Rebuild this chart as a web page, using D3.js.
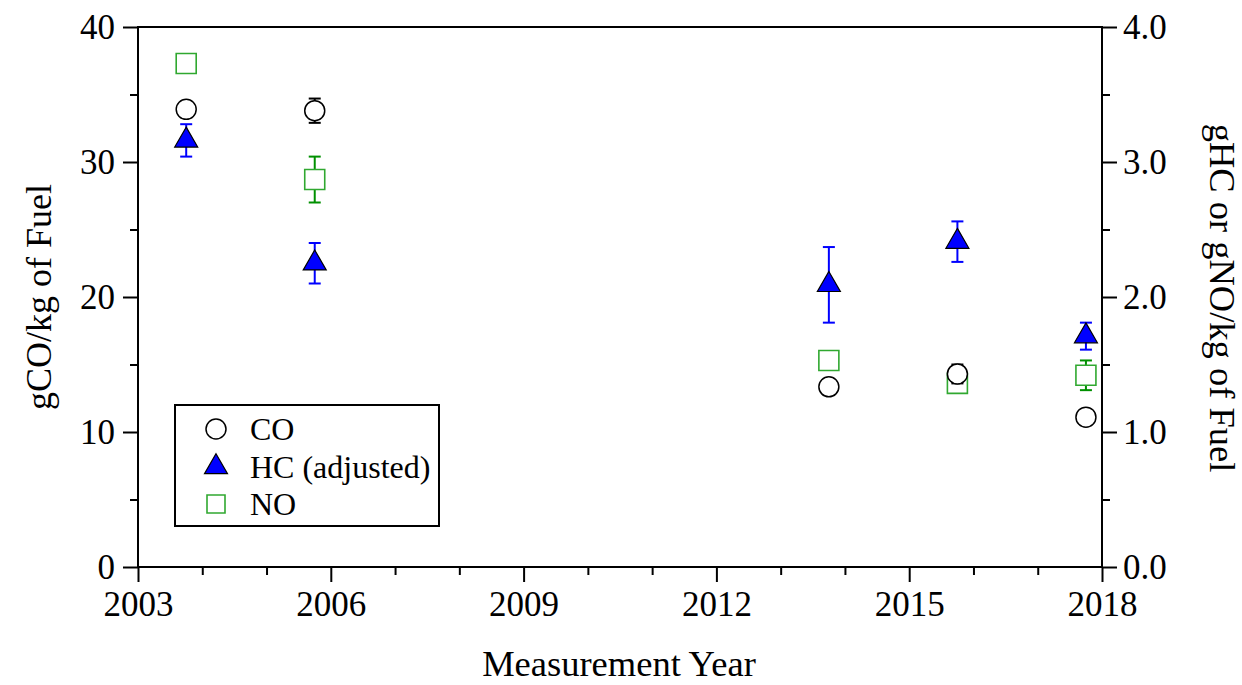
<!DOCTYPE html>
<html>
<head>
<meta charset="utf-8">
<script src="https://cdn.jsdelivr.net/npm/d3@7"></script>
<style>
  html, body { margin: 0; padding: 0; background: #fff; }
  text { font-family: "Liberation Serif", "Times New Roman", serif; fill: #000; }
</style>
</head>
<body>
<svg id="chart" width="1242" height="685"></svg>
<script>
// ---- data ----
const years = [2003.75, 2005.75, 2013.75, 2015.75, 2017.75];
const coValues = [33.9, 33.8, 13.35, 14.3, 11.1];
const coErrors = [0, 0.9, 0, 0.7, 0];
const hcValues = [3.16, 2.25, 2.09, 2.41, 1.71];
const hcErrors = [0.12, 0.15, 0.28, 0.15, 0.10];
const noValues = [3.73, 2.87, 1.53, 1.36, 1.42];
const noErrors = [0, 0.17, 0, 0, 0.11];
const xTicks = [2003, 2006, 2009, 2012, 2015, 2018];
const yLeftTicks = [0, 10, 20, 30, 40];
const yRightTicks = [0, 1, 2, 3, 4];
const legendLabels = ["CO", "HC (adjusted)", "NO"];

// ---- layout ----
const svg = d3.select("#chart");
const L = 138, R = 1102, T = 27, B = 567;
const x = d3.scaleLinear().domain([2003, 2018]).range([L, R]);
const yL = d3.scaleLinear().domain([0, 40]).range([B, T]);
const yR = d3.scaleLinear().domain([0, 4]).range([B, T]);

const tickFont = 35;

// frame
svg.append("rect").attr("x", L).attr("y", T).attr("width", R - L).attr("height", B - T)
  .attr("fill", "none").attr("stroke", "#000").attr("stroke-width", 2);

function styleAxis(g) {
  g.select(".domain").remove();
  g.selectAll("line").attr("stroke", "#000").attr("stroke-width", 2);
  g.selectAll("text").attr("font-family", "Liberation Serif").attr("font-size", tickFont).attr("fill", "#000");
}

// x axis major
const gx = svg.append("g").attr("transform", `translate(0,${B})`)
  .call(d3.axisBottom(x).tickValues(xTicks).tickFormat(d3.format("d")).tickSize(15).tickPadding(9));
styleAxis(gx);
gx.selectAll("text").attr("dy", "0.71em");
// x minor
svg.append("g").attr("transform", `translate(0,${B})`)
  .call(d3.axisBottom(x).tickValues(d3.range(2003, 2019).filter(v => !xTicks.includes(v))).tickFormat("").tickSize(8))
  .call(styleAxis);

// left axis
const gl = svg.append("g").attr("transform", `translate(${L},0)`)
  .call(d3.axisLeft(yL).tickValues(yLeftTicks).tickFormat(d3.format("d")).tickSize(15).tickPadding(8));
styleAxis(gl);
svg.append("g").attr("transform", `translate(${L},0)`)
  .call(d3.axisLeft(yL).tickValues([5, 15, 25, 35]).tickFormat("").tickSize(8))
  .call(styleAxis);

// right axis
const gr = svg.append("g").attr("transform", `translate(${R},0)`)
  .call(d3.axisRight(yR).tickValues(yRightTicks).tickFormat(d3.format(".1f")).tickSize(15).tickPadding(6));
styleAxis(gr);
svg.append("g").attr("transform", `translate(${R},0)`)
  .call(d3.axisRight(yR).tickValues([0.5, 1.5, 2.5, 3.5]).tickFormat("").tickSize(8))
  .call(styleAxis);

// axis titles
svg.append("text").attr("x", (L + R) / 2 - 1).attr("y", 676).attr("text-anchor", "middle")
  .attr("font-size", 36.5).text("Measurement Year");
svg.append("text").attr("transform", `translate(51,${(T + B) / 2}) rotate(-90)`).attr("text-anchor", "middle")
  .attr("font-size", 36).text("gCO/kg of Fuel");
svg.append("text").attr("transform", `translate(1210,${(T + B) / 2 + 1}) rotate(90)`).attr("text-anchor", "middle")
  .attr("font-size", 36.5).text("gHC or gNO/kg of Fuel");

// error bars helper
function errorBars(vals, errs, scale, color) {
  const idx = d3.range(vals.length).filter(i => errs[i] > 0);
  const g = svg.append("g").attr("stroke", color).attr("stroke-width", 2);
  idx.forEach(i => {
    const cx = x(years[i]);
    const y1 = scale(vals[i] + errs[i]), y2 = scale(vals[i] - errs[i]);
    g.append("line").attr("x1", cx).attr("x2", cx).attr("y1", y1).attr("y2", y2);
    g.append("line").attr("x1", cx - 6).attr("x2", cx + 6).attr("y1", y1).attr("y2", y1);
    g.append("line").attr("x1", cx - 6).attr("x2", cx + 6).attr("y1", y2).attr("y2", y2);
  });
}

const sqSize = 20 * 20;
const triSize = 229;
const circSize = Math.PI * 10 * 10;

// NO (squares)
errorBars(noValues, noErrors, yR, "#009000");
svg.append("g").selectAll("path").data(noValues).join("path")
  .attr("transform", (d, i) => `translate(${x(years[i])},${yR(d)})`)
  .attr("d", d3.symbol(d3.symbolSquare, sqSize)())
  .attr("fill", "#fff").attr("stroke", "#30a830").attr("stroke-width", 1.6);

// CO (circles)
errorBars(coValues, coErrors, yL, "#000");
svg.append("g").selectAll("path").data(coValues).join("path")
  .attr("transform", (d, i) => `translate(${x(years[i])},${yL(d)})`)
  .attr("d", d3.symbol(d3.symbolCircle, circSize)())
  .attr("fill", "#fff").attr("stroke", "#000").attr("stroke-width", 1.5);

// HC (triangles)
errorBars(hcValues, hcErrors, yR, "#0000ff");
svg.append("g").selectAll("path").data(hcValues).join("path")
  .attr("transform", (d, i) => `translate(${x(years[i])},${yR(d)})`)
  .attr("d", d3.symbol(d3.symbolTriangle, triSize)())
  .attr("fill", "#0000ff").attr("stroke", "#000").attr("stroke-width", 1.2);

// legend
const lg = svg.append("g");
lg.append("rect").attr("x", 175).attr("y", 405).attr("width", 264).attr("height", 121)
  .attr("fill", "#fff").attr("stroke", "#000").attr("stroke-width", 2);
const legendY = [429, 467, 504];
const legendSym = [
  { type: d3.symbolCircle, size: circSize, fill: "#fff", stroke: "#000", sw: 1.5 },
  { type: d3.symbolTriangle, size: triSize, fill: "#0000ff", stroke: "#000", sw: 1.2 },
  { type: d3.symbolSquare, size: 18 * 18, fill: "#fff", stroke: "#30a830", sw: 1.6 }
];
legendLabels.forEach((lab, i) => {
  lg.append("path").attr("transform", `translate(216,${legendY[i]})`)
    .attr("d", d3.symbol(legendSym[i].type, legendSym[i].size)())
    .attr("fill", legendSym[i].fill).attr("stroke", legendSym[i].stroke).attr("stroke-width", legendSym[i].sw);
  lg.append("text").attr("x", 250).attr("y", legendY[i]).attr("dy", "0.35em")
    .attr("font-size", 32).text(lab);
});
</script>
</body>
</html>
